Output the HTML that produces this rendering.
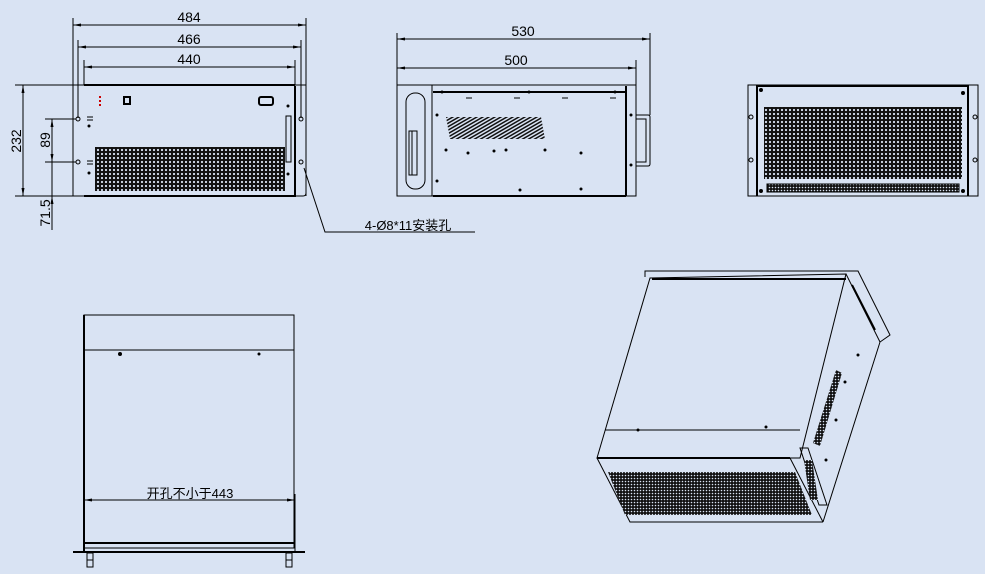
<!DOCTYPE html>
<html><head><meta charset="utf-8"><style>
html,body{margin:0;padding:0;background:#d9e3f3;}
svg{display:block}
text{font-family:"Liberation Sans","Noto Sans CJK SC",sans-serif;fill:#000}
</style></head><body>
<svg width="985" height="574" viewBox="0 0 985 574" xmlns="http://www.w3.org/2000/svg">
<defs>
<pattern id="m" width="4" height="4" patternUnits="userSpaceOnUse">
<rect width="4" height="4" fill="#111"/><circle cx="2" cy="2" r="1.1" fill="#d9e3f3"/>
</pattern>
<pattern id="m2" width="3" height="3" patternUnits="userSpaceOnUse">
<rect width="3" height="3" fill="#111"/><circle cx="1.5" cy="1.5" r="0.8" fill="#d9e3f3"/>
</pattern>
<pattern id="hs" width="3" height="3" patternUnits="userSpaceOnUse" patternTransform="rotate(60)">
<rect width="3" height="3" fill="#d9e3f3"/><rect width="1.5" height="3" fill="#111"/>
</pattern>
</defs>
<g fill="none" stroke="#000" stroke-width="1">
<!-- FRONT VIEW -->
<line x1="73" y1="18" x2="73" y2="140"/><line x1="306" y1="18" x2="306" y2="196"/>
<line x1="78" y1="40" x2="78" y2="118"/><line x1="301" y1="40" x2="301" y2="118"/>
<line x1="84" y1="60" x2="84" y2="85"/><line x1="295" y1="60" x2="295" y2="85"/>
<line x1="73" y1="25" x2="306" y2="25"/>
<line x1="78" y1="47" x2="301" y2="47"/>
<line x1="84" y1="67" x2="295" y2="67"/>
<path d="M73 85 H306 V193 Q306 196 303 196 H73 Z"/>
<line x1="84" y1="85" x2="295" y2="85" stroke-width="2"/>
<line x1="84" y1="196" x2="296" y2="196" stroke-width="2"/>
<line x1="295" y1="86" x2="295" y2="196" stroke-width="2"/>
<rect x="95" y="147" width="190" height="44" fill="url(#m)" stroke="none"/>
<rect x="124" y="97" width="6" height="7" stroke-width="2"/>
<rect x="259" y="97" width="14" height="8" rx="2" stroke-width="2"/>
<rect x="286" y="116" width="5" height="46"/>
<circle cx="78" cy="119" r="2"/><circle cx="78" cy="162" r="2"/>
<circle cx="301" cy="119" r="2"/><circle cx="301" cy="162" r="2"/>
<line x1="87" y1="117" x2="93" y2="117"/><line x1="87" y1="120" x2="93" y2="120"/>
<line x1="87" y1="161" x2="93" y2="161"/><line x1="87" y1="164" x2="93" y2="164"/>
<line x1="15" y1="85" x2="73" y2="85"/><line x1="15" y1="196" x2="73" y2="196"/>
<line x1="23" y1="85" x2="23" y2="196"/>
<line x1="45" y1="119" x2="76" y2="119"/><line x1="45" y1="162" x2="76" y2="162"/>
<line x1="52" y1="119" x2="52" y2="230"/>
<polyline points="304,168 325,232 475,232"/>
<!-- SIDE VIEW -->
<line x1="397" y1="33" x2="397" y2="85"/><line x1="650" y1="33" x2="650" y2="115"/>
<line x1="636" y1="60" x2="636" y2="85"/>
<line x1="397" y1="39" x2="650" y2="39"/>
<line x1="397" y1="68" x2="636" y2="68"/>
<rect x="397" y="85" width="239" height="111"/>
<line x1="432" y1="85" x2="432" y2="196"/>
<line x1="433" y1="92" x2="626" y2="92" stroke-width="2"/>
<line x1="433" y1="196" x2="626" y2="196" stroke-width="2"/>
<line x1="626" y1="86" x2="626" y2="196" stroke-width="2"/>
<path d="M636 115 H648 Q650 115 650 117 V164 Q650 166 648 166 H636"/>
<path d="M636 119 H646 V162 H636"/>
<rect x="406" y="93" width="19" height="96" rx="9"/>
<rect x="409" y="131" width="8" height="44"/><rect x="412" y="131" width="5" height="44"/>
<polygon points="446,117 541,117 545,139 450,139" fill="url(#hs)" stroke="none"/>
<line x1="466" y1="98" x2="472" y2="98"/><line x1="514" y1="98" x2="520" y2="98"/>
<line x1="562" y1="98" x2="568" y2="98"/><line x1="610" y1="98" x2="616" y2="98"/>
<!-- REAR VIEW -->
<rect x="748" y="85" width="230" height="111"/>
<line x1="757" y1="85" x2="757" y2="196" stroke-width="2"/>
<line x1="968" y1="85" x2="968" y2="196" stroke-width="2"/>
<line x1="757" y1="86" x2="968" y2="86" stroke-width="2"/>
<rect x="764" y="107" width="198" height="72" fill="url(#m)" stroke="none"/>
<rect x="767" y="184" width="192" height="8" fill="url(#m2)" stroke="#000"/>
<circle cx="751" cy="117" r="2"/><circle cx="751" cy="160" r="2"/>
<circle cx="975" cy="117" r="2"/><circle cx="975" cy="160" r="2"/>
<!-- BOTTOM VIEW -->
<rect x="84" y="315" width="210" height="233"/>
<line x1="84" y1="315" x2="84" y2="552" stroke-width="2"/>
<line x1="84" y1="350" x2="294" y2="350"/>
<line x1="84" y1="500" x2="295" y2="500"/>
<line x1="295" y1="494" x2="295" y2="552"/>
<line x1="85" y1="543" x2="294" y2="543" stroke-width="2"/>
<line x1="73" y1="552" x2="305" y2="552" stroke-width="2"/>
<rect x="87" y="553" width="6" height="14"/><rect x="286" y="553" width="6" height="14"/>
<line x1="87" y1="560" x2="93" y2="560"/><line x1="286" y1="560" x2="292" y2="560"/>
<!-- ISO VIEW -->
<polyline points="645,277 645,271 858,271 890,335 880,342 823,522"/>
<polygon points="650,278 846,274 800,458 597,458"/>
<line x1="652" y1="279" x2="846" y2="279" stroke-width="2"/>
<line x1="605" y1="430" x2="800" y2="430"/>
<line x1="597" y1="458" x2="790" y2="458" stroke-width="2"/>
<polyline points="597,458 630,522 823,522"/>
<line x1="790" y1="458" x2="823" y2="522"/>
<line x1="846" y1="274" x2="880" y2="342"/>
<line x1="852" y1="285" x2="875" y2="330" stroke-width="2"/>
<polygon points="608,472 795,472 812,515 625,515" fill="url(#m2)" stroke="none"/>
<polygon points="836,370 842,373 820,446 813,443" fill="url(#m2)" stroke="none"/>
<path d="M800 448 L808 448 L827 505 L819 505 Z"/>
<polygon points="804,460 812,460 818,500 810,500" fill="url(#m2)" stroke="none"/>
</g>
<g fill="#000">
<!-- arrowheads -->
<path d="M73 25 l8 -1.5 v3 z M306 25 l-8 -1.5 v3 z"/>
<path d="M78 47 l8 -1.5 v3 z M301 47 l-8 -1.5 v3 z"/>
<path d="M84 67 l8 -1.5 v3 z M295 67 l-8 -1.5 v3 z"/>
<path d="M397 39 l8 -1.5 v3 z M650 39 l-8 -1.5 v3 z"/>
<path d="M397 68 l8 -1.5 v3 z M636 68 l-8 -1.5 v3 z"/>
<path d="M23 85 l-1.5 8 h3 z M23 196 l-1.5 -8 h3 z"/>
<path d="M52 119 l-1.5 8 h3 z M52 162 l-1.5 -8 h3 z M52 196 l-1.5 8 h3 z"/>
<path d="M84 500 l8 -1.5 v3 z M295 500 l-8 -1.5 v3 z"/>
<circle cx="89" cy="126" r="1.5"/><circle cx="89" cy="173" r="1.5"/><circle cx="288" cy="106" r="1.5"/><circle cx="288" cy="174" r="1.5"/>
<rect x="99" y="96" width="2" height="2" fill="#c00"/><rect x="99" y="100" width="2" height="2" fill="#c00"/><rect x="99" y="104" width="2" height="2" fill="#c00"/>
<circle cx="442" cy="92" r="1.5"/><circle cx="529" cy="92" r="1.5"/><circle cx="615" cy="92" r="1.5"/>
<circle cx="437" cy="115" r="1.5"/><circle cx="437" cy="181" r="1.5"/><circle cx="631" cy="115" r="1.5"/><circle cx="631" cy="165" r="1.5"/>
<circle cx="446" cy="150" r="1.5"/><circle cx="468" cy="153" r="1.5"/><circle cx="494" cy="151" r="1.5"/><circle cx="506" cy="150" r="1.5"/><circle cx="545" cy="150" r="1.5"/><circle cx="581" cy="153" r="1.5"/>
<circle cx="520" cy="190" r="1.5"/><circle cx="581" cy="189" r="1.5"/>
<circle cx="761" cy="90" r="2"/><circle cx="963" cy="93" r="2"/><circle cx="761" cy="191" r="2"/><circle cx="963" cy="191" r="2"/>
<circle cx="120" cy="354" r="2"/><circle cx="259" cy="354" r="1.5"/>
<circle cx="638" cy="430" r="1.5"/><circle cx="766" cy="427" r="1.5"/>
<circle cx="858" cy="355" r="1.5"/><circle cx="845" cy="382" r="1.5"/><circle cx="836" cy="420" r="1.5"/><circle cx="826" cy="460" r="1.5"/>
</g>
<g font-size="14" text-anchor="middle">
<text x="189" y="22">484</text>
<text x="189" y="44">466</text>
<text x="189" y="64">440</text>
<text x="523" y="36">530</text>
<text x="516" y="65">500</text>
<text transform="translate(21,141) rotate(-90)">232</text>
<text transform="translate(50,140) rotate(-90)">89</text>
<text transform="translate(50,213) rotate(-90)">71.5</text>
<text x="408" y="230" font-size="13">4-Ø8*11安装孔</text>
<text x="190" y="498" font-size="13">开孔不小于443</text>
</g>
</svg>
</body></html>
